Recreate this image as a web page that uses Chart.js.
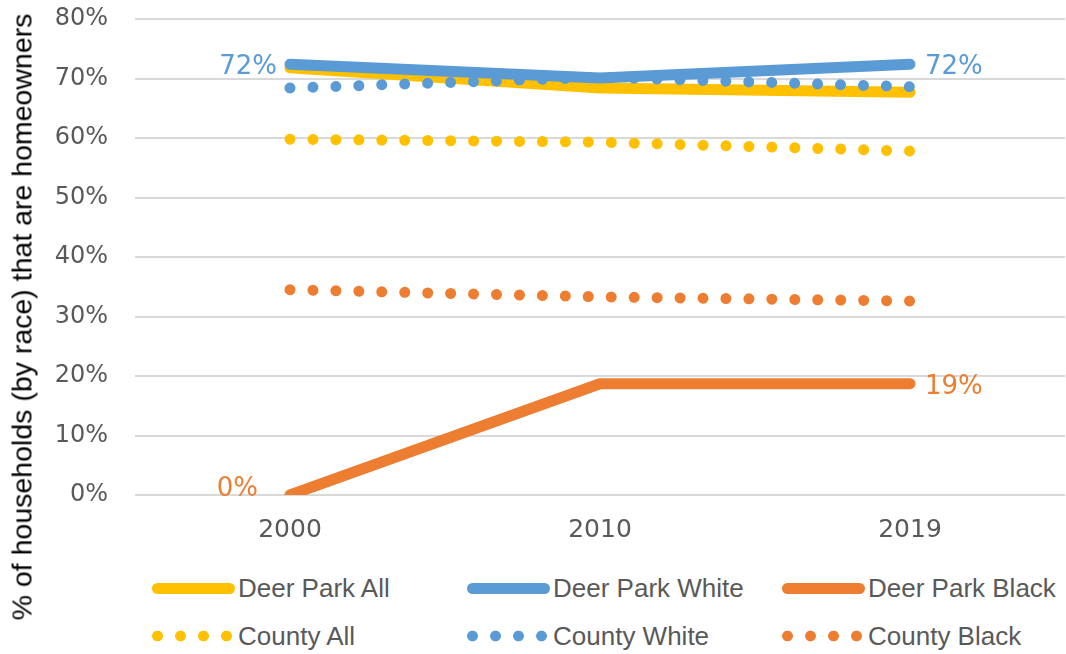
<!DOCTYPE html>
<html>
<head>
<meta charset="utf-8">
<title>Homeownership by race</title>
<script src="https://cdn.jsdelivr.net/npm/chart.js@4"></script>
<style>
  body { margin: 0; background: #fff; }
  #wrap { position: relative; width: 1066px; height: 654px; overflow: hidden; }
  #chart { position: absolute; left: 0; top: 0; }
  #yTitle {
    position: absolute; left: 22px; top: 317px;
    transform: translate(-50%, -50%) rotate(-90deg);
    white-space: nowrap; color: #000;
    font: 28.5px "Liberation Sans", Arial, sans-serif;
  }
  .legItem {
    position: absolute; height: 30px; display: flex; align-items: center;
    font: 26px "Liberation Sans", Arial, sans-serif; color: #595959; white-space: nowrap;
  }
  .solid { width: 83px; height: 11px; border-radius: 6px; margin-left: 6px; margin-right: 3px; }
  .dots { width: 92px; height: 12px; background-size: 23px 12px; }
</style>
</head>
<body>
<div id="wrap">
  <canvas id="chart" width="1066" height="560"></canvas>
  <div id="yTitle">% of households (by race) that are homeowners</div>
  <div id="legend"></div>
</div>
<script>
// census years
const years = ['2000', '2010', '2019'];

// share of households that own their home, in percent
const deerParkAll   = [71.8, 68.4, 67.7];
const deerParkWhite = [72.4, 70.1, 72.4];
const deerParkBlack = [0, 18.7, 18.7];
const countyAll     = [59.8, 59.3, 57.8];
const countyWhite   = [68.4, 70.2, 68.6];
const countyBlack   = [34.5, 33.3, 32.6];

const yTicks = [0, 10, 20, 30, 40, 50, 60, 70, 80];

const YELLOW = '#FFC000';
const BLUE = '#5B9BD5';
const ORANGE = '#ED7D31';

function solid(label, data, color, order) {
  return {
    label, data, order,
    borderColor: color, backgroundColor: color,
    borderWidth: 11, borderCapStyle: 'round', borderJoinStyle: 'round',
    pointRadius: 0, tension: 0, dotted: false
  };
}

// round caps on near-zero dashes give a row of dots
function dotted(label, data, color, order) {
  return {
    label, data, order,
    borderColor: color, backgroundColor: color,
    borderWidth: 11, borderCapStyle: 'round', borderJoinStyle: 'round',
    borderDash: [0.01, 22.94],
    pointRadius: 0, tension: 0, dotted: true
  };
}

const datasets = [
  solid('Deer Park All', deerParkAll, YELLOW, 3),
  solid('Deer Park White', deerParkWhite, BLUE, 1),
  solid('Deer Park Black', deerParkBlack, ORANGE, 6),
  dotted('County All', countyAll, YELLOW, 4),
  dotted('County White', countyWhite, BLUE, 2),
  dotted('County Black', countyBlack, ORANGE, 5)
];

// value labels next to the Deer Park lines
const labelSpots = [
  { ds: 1, idx: 0, side: 'left', gap: 13, dy: 3 },
  { ds: 1, idx: 2, side: 'right', gap: 15, dy: 3 },
  { ds: 2, idx: 0, side: 'left', gap: 32, dy: -6 },
  { ds: 2, idx: 2, side: 'right', gap: 15, dy: 4 }
];

const valueLabels = {
  id: 'valueLabels',
  afterDatasetsDraw(chart, args, opts) {
    const ctx = chart.ctx;
    ctx.save();
    ctx.font = '26px "DejaVu Sans"';
    ctx.textBaseline = 'middle';
    opts.spots.forEach(s => {
      const ds = chart.data.datasets[s.ds];
      const pt = chart.getDatasetMeta(s.ds).data[s.idx];
      ctx.fillStyle = ds.borderColor;
      ctx.textAlign = s.side === 'left' ? 'right' : 'left';
      const x = s.side === 'left' ? pt.x - s.gap : pt.x + s.gap;
      ctx.fillText(Math.round(ds.data[s.idx]) + '%', x, pt.y + s.dy);
    });
    ctx.restore();
  }
};

const chart = new Chart(document.getElementById('chart'), {
  type: 'line',
  data: { labels: years, datasets: datasets },
  options: {
    responsive: false,
    animation: false,
    layout: { padding: { top: 19, right: 1, left: 0, bottom: 0 } },
    plugins: {
      legend: { display: false },
      tooltip: { enabled: false },
      valueLabels: { spots: labelSpots }
    },
    scales: {
      x: {
        offset: true,
        grid: { display: false, drawTicks: false },
        border: { display: false },
        ticks: { color: '#595959', font: { family: 'DejaVu Sans', size: 25 }, padding: 20 },
        afterFit: s => { s.height = 65; }
      },
      y: {
        min: 0, max: 80,
        afterBuildTicks: s => { s.ticks = yTicks.map(v => ({ value: v })); },
        grid: { color: '#D9D9D9', lineWidth: 2, drawTicks: false },
        border: { display: false },
        ticks: {
          color: '#595959', font: { family: 'DejaVu Sans', size: 24 }, padding: 27,
          callback: v => v + '%'
        },
        afterFit: s => { s.width = 135; s.paddingTop = 0; s.paddingBottom = 0; }
      }
    }
  },
  plugins: [valueLabels]
});

// legend laid out in three columns, two rows
const legend = document.getElementById('legend');
const cols = [146, 461, 776];
const rows = [588, 636];
chart.data.datasets.forEach((ds, i) => {
  const item = document.createElement('div');
  item.className = 'legItem';
  item.style.left = cols[i % 3] + 'px';
  item.style.top = (rows[Math.floor(i / 3)] - 15) + 'px';
  const sample = document.createElement('span');
  if (ds.dotted) {
    sample.className = 'dots';
    sample.style.backgroundImage =
      'radial-gradient(circle at center, ' + ds.borderColor + ' 5px, transparent 5.7px)';
  } else {
    sample.className = 'solid';
    sample.style.background = ds.borderColor;
  }
  const text = document.createElement('span');
  text.textContent = ds.label;
  item.appendChild(sample);
  item.appendChild(text);
  legend.appendChild(item);
});
</script>
</body>
</html>
